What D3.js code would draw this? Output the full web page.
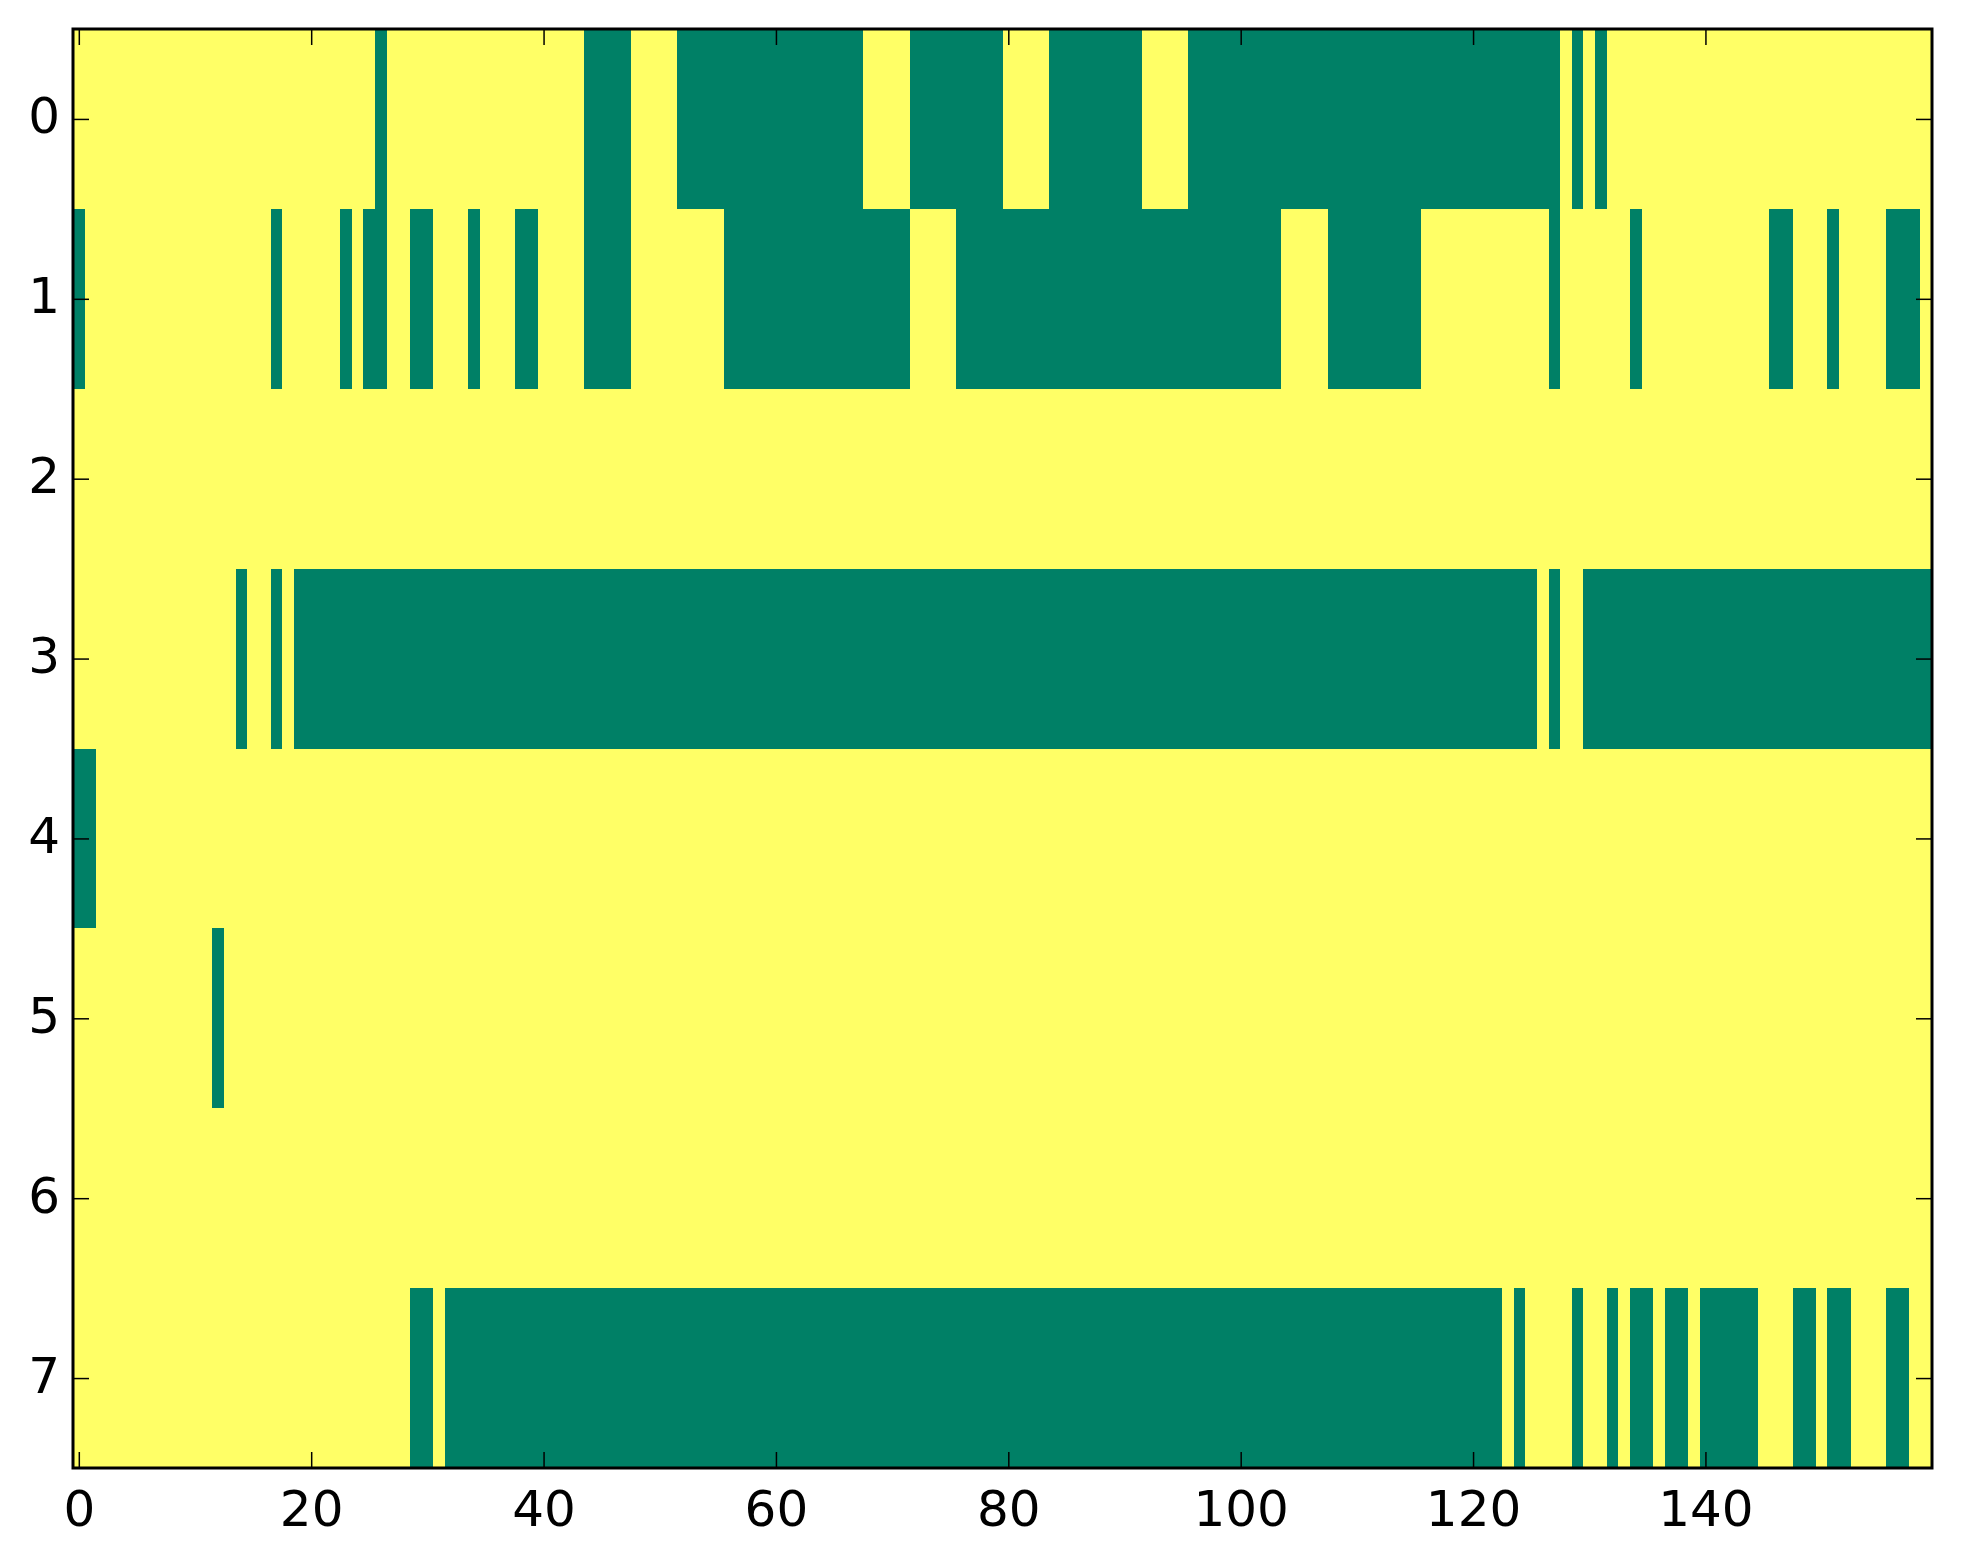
<!DOCTYPE html>
<html>
<head>
<meta charset="utf-8">
<script src="https://cdn.jsdelivr.net/npm/d3@7"></script>
<style>
  body { margin: 0; background: #fff; }
  text { font-family: "DejaVu Sans", sans-serif; }
</style>
</head>
<body>
<div id="chart"></div>
<script>
// image is 8 rows x 160 columns of 0/1; rows listed as runs of "1" cells [first, last]
const nCols = 160;
const rowLabels = [0, 1, 2, 3, 4, 5, 6, 7];
const xTicks = [0, 20, 40, 60, 80, 100, 120, 140];

const row0 = [[26, 26], [44, 47], [52, 67], [72, 79], [84, 91], [96, 127], [129, 129], [131, 131]];
const row1 = [[0, 0], [17, 17], [23, 23], [25, 26], [29, 30], [34, 34], [38, 39], [44, 47],
              [56, 71], [76, 103], [108, 115], [127, 127], [134, 134], [146, 147], [151, 151], [156, 158]];
const row2 = [];
const row3 = [[14, 14], [17, 17], [19, 125], [127, 127], [130, 159]];
const row4 = [[0, 1]];
const row5 = [[12, 12]];
const row6 = [];
const row7 = [[29, 30], [32, 122], [124, 124], [129, 129], [132, 132], [134, 135], [137, 138],
              [140, 144], [148, 149], [151, 152], [156, 157]];
const rows = [row0, row1, row2, row3, row4, row5, row6, row7];

const W = 1963, H = 1564;
const margin = {top: 29, right: 31, bottom: 96, left: 73};
const width = W - margin.left - margin.right;
const height = H - margin.top - margin.bottom;

// summer colormap ends
const color = d3.scaleOrdinal().domain([0, 1]).range(["#ffff66", "#008066"]);

const svg = d3.select("#chart").append("svg")
    .attr("width", W)
    .attr("height", H);

const g = svg.append("g")
    .attr("transform", `translate(${margin.left}, ${margin.top})`);

const x = d3.scaleLinear().domain([-0.5, nCols - 0.5]).range([0, width]);
const y = d3.scaleLinear().domain([-0.5, rowLabels.length - 0.5]).range([0, height]);

// background value 0 for every row
g.selectAll(".row-bg")
    .data(rowLabels)
    .enter().append("rect")
    .attr("class", "row-bg")
    .attr("x", x(-0.5))
    .attr("y", d => y(d - 0.5))
    .attr("width", x(nCols - 0.5) - x(-0.5))
    .attr("height", y(0.5) - y(-0.5))
    .attr("fill", color(0))
    .attr("shape-rendering", "crispEdges");

const runs = [];
rows.forEach((r, i) => r.forEach(([a, b]) => runs.push({row: i, a, b})));

g.selectAll(".run")
    .data(runs)
    .enter().append("rect")
    .attr("class", "run")
    .attr("x", d => x(d.a - 0.5))
    .attr("y", d => y(d.row - 0.5))
    .attr("width", d => x(d.b + 0.5) - x(d.a - 0.5))
    .attr("height", y(0.5) - y(-0.5))
    .attr("fill", color(1))
    .attr("shape-rendering", "crispEdges");

// axes: ticks inside on all four sides, matplotlib classic look
const tickLen = 16;
const fontSize = 50;

const xb = g.append("g")
    .attr("transform", `translate(0, ${height})`)
    .call(d3.axisBottom(x).tickValues(xTicks).tickSizeInner(-tickLen).tickSizeOuter(0).tickPadding(22));
const xt = g.append("g")
    .call(d3.axisTop(x).tickValues(xTicks).tickSizeInner(-tickLen).tickSizeOuter(0).tickFormat(""));
const yl = g.append("g")
    .call(d3.axisLeft(y).tickValues(rowLabels).tickSizeInner(-tickLen).tickSizeOuter(0).tickPadding(13));
const yr = g.append("g")
    .attr("transform", `translate(${width}, 0)`)
    .call(d3.axisRight(y).tickValues(rowLabels).tickSizeInner(-tickLen).tickSizeOuter(0).tickFormat(""));

[xb, xt, yl, yr].forEach(a => {
    a.select(".domain").remove();
    a.selectAll(".tick line").attr("stroke", "#000").attr("stroke-width", 1.5);
    a.selectAll(".tick text")
        .attr("fill", "#000")
        .style("font-size", fontSize + "px")
        .style("font-family", "'DejaVu Sans', sans-serif");
});
yl.selectAll(".tick text").attr("dy", "0.28em");

g.append("rect")
    .attr("x", 0)
    .attr("y", 0)
    .attr("width", width)
    .attr("height", height)
    .attr("fill", "none")
    .attr("stroke", "#000")
    .attr("stroke-width", 3);
</script>
</body>
</html>
